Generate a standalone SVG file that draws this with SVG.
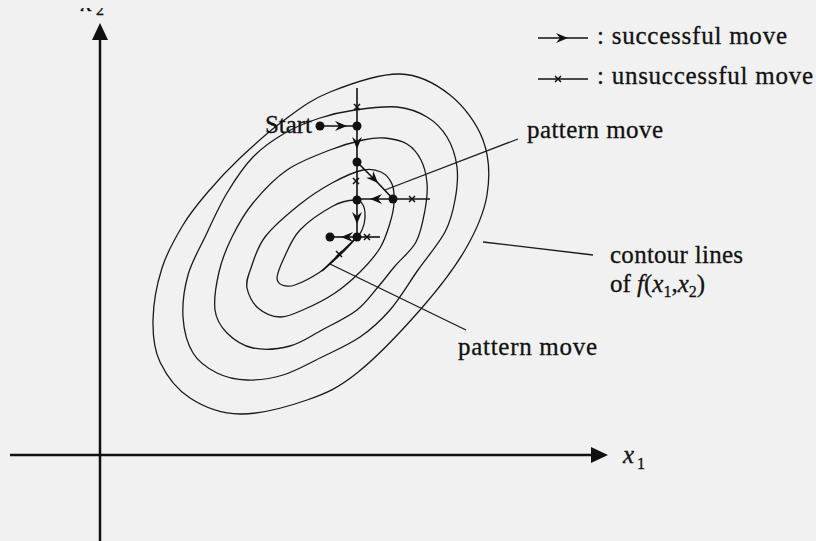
<svg xmlns="http://www.w3.org/2000/svg" width="816" height="541" viewBox="0 0 816 541">
<style>
.ax{stroke:#111;stroke-width:2.5;fill:none}
.ct{stroke:#1a1a1a;stroke-width:1.3;fill:none}
.tr{stroke:#111;stroke-width:1.6;fill:none}
.ld{stroke:#1a1a1a;stroke-width:1.3;fill:none}
.arr{marker-mid:url(#ah)}
text{font-family:"Liberation Serif","Times New Roman",serif;font-size:25px;fill:#111;stroke:#111;stroke-width:0.3}
.it{font-style:italic}
</style>
<defs>
<marker id="ah" viewBox="-13 -6 14 12" refX="0" refY="0" markerWidth="14" markerHeight="12" markerUnits="userSpaceOnUse" orient="auto">
<path d="M0,0 L-12,-5 L-8,0 L-12,5 Z" fill="#111"/>
</marker>
<path id="xm" d="M-3,-3 L3,3 M-3,3 L3,-3" stroke="#111" stroke-width="1.5" fill="none"/>
<circle id="dot" r="4.5" fill="#111"/>
<clipPath id="topclip"><rect x="60" y="8" width="60" height="30"/></clipPath>
</defs>
<rect width="816" height="541" fill="#f1f1f1"/>

<g id="axes">
<line class="ax" x1="100" y1="38" x2="100" y2="541"/>
<polygon points="100,23 92,40 108,40" fill="#111"/>
<line class="ax" x1="10" y1="455" x2="593" y2="455"/>
<polygon points="608,455 591,447 591,463" fill="#111"/>
<g id="label-x2" clip-path="url(#topclip)">
<text x="81" y="11" class="it">x</text>
<text x="96" y="15" style="font-size:16px">2</text>
</g>
<g id="label-x1">
<text x="623" y="463" class="it">x</text>
<text x="637" y="469" style="font-size:16px">1</text>
</g>
</g>

<g id="contours">
<path id="c5" class="ct" d="M153,320 C153.3,304.3 157,283.8 162,268 C167,252.2 175.5,237.5 183,225 C190.5,212.5 197.5,204.2 207,193 C216.5,181.8 227.3,170 240,158 C252.7,146 268,132 283,121 C298,110 310.5,99.8 330,92 C349.5,84.2 380,73.5 400,74 C420,74.5 436.2,84 450,95 C463.8,106 476.8,123.3 483,140 C489.2,156.7 490,176.7 487,195 C484,213.3 476.2,230.8 465,250 C453.8,269.2 438,289.5 420,310 C402,330.5 375.8,358 357,373 C338.2,388 326.5,393.2 307,400 C287.5,406.8 259.5,414.3 240,414 C220.5,413.7 203.3,406.7 190,398 C176.7,389.3 166.2,375 160,362 C153.8,349 152.7,335.7 153,320 Z"/>
<path id="c4" class="ct" d="M183,317 C182.2,304 184.3,288.3 188,275 C191.7,261.7 198.5,250.7 205,237 C211.5,223.3 219,206.3 227,193 C235,179.7 243.3,167 253,157 C262.7,147 273.8,139.5 285,133 C296.2,126.5 308.3,121.8 320,118 C331.7,114.2 342.2,111.8 355,110 C367.8,108.2 385,105.8 397,107 C409,108.2 418.7,112 427,117 C435.3,122 442,128.7 447,137 C452,145.3 455.7,156.5 457,167 C458.3,177.5 457,189.2 455,200 C453,210.8 451.2,220.3 445,232 C438.8,243.7 427.2,257 418,270 C408.8,283 399.7,298.8 390,310 C380.3,321.2 371.7,329 360,337 C348.3,345 332.8,351.7 320,358 C307.2,364.3 295.2,371.3 283,375 C270.8,378.7 258,380.3 247,380 C236,379.7 226,377.5 217,373 C208,368.5 198.7,362.3 193,353 C187.3,343.7 183.8,330 183,317 Z"/>
<path id="c3" class="ct" d="M215,310 C213.7,299.8 216.2,284.2 219,272 C221.8,259.8 226.3,248.5 232,237 C237.7,225.5 243.8,214.2 253,203 C262.2,191.8 274.2,178.8 287,170 C299.8,161.2 317.3,155 330,150 C342.7,145 353.8,142 363,140 C372.2,138 377.7,137.3 385,138 C392.3,138.7 401,140.3 407,144 C413,147.7 417.7,153.5 421,160 C424.3,166.5 426.3,174.7 427,183 C427.7,191.3 426.8,200.2 425,210 C423.2,219.8 421,232.7 416,242 C411,251.3 401.3,258.5 395,266 C388.7,273.5 384.3,279.7 378,287 C371.7,294.3 366.3,302.8 357,310 C347.7,317.2 333.2,324 322,330 C310.8,336 301.5,343 290,346 C278.5,349 263.5,350.2 253,348 C242.5,345.8 233.3,339.3 227,333 C220.7,326.7 216.3,320.2 215,310 Z"/>
<path id="c2" class="ct" d="M247,288 C245.8,281.3 248,276.5 251,268 C254,259.5 257,247.5 265,237 C273,226.5 287.8,214 299,205 C310.2,196 321.3,188.8 332,183 C342.7,177.2 354.8,171.8 363,170 C371.2,168.2 376.2,169.7 381,172 C385.8,174.3 389.8,178.8 392,184 C394.2,189.2 394.3,196.5 394,203 C393.7,209.5 392.3,215.5 390,223 C387.7,230.5 385,239.8 380,248 C375,256.2 367.5,264.5 360,272 C352.5,279.5 344.2,286.8 335,293 C325.8,299.2 314.2,305 305,309 C295.8,313 287.8,317.2 280,317 C272.2,316.8 263.5,312.8 258,308 C252.5,303.2 248.2,294.7 247,288 Z"/>
<path id="c1" class="ct" d="M277,278 C277.3,273.5 280.2,266 284,258 C287.8,250 291.8,238.7 300,230 C308.2,221.3 323.8,211 333,206 C342.2,201 350,200.2 355,200 C360,199.8 361.3,202 363,205 C364.7,208 365.2,213.8 365,218 C364.8,222.2 363.3,226.8 362,230 C360.7,233.2 360.7,232.8 357,237 C353.3,241.2 346.2,249.2 340,255 C333.8,260.8 327.5,267 320,272 C312.5,277 301.3,282.8 295,285 C288.7,287.2 285,286.2 282,285 C279,283.8 277.3,282.5 277,278 Z"/>
</g>

<g id="connectors">
<line class="tr" x1="357" y1="88" x2="357" y2="126"/>
<polyline class="tr arr" points="320,126 347,126 357,126"/>
<polyline class="tr arr" points="357,126 357,149 357,162"/>
<line class="tr" x1="357" y1="162" x2="357" y2="200"/>
<polyline class="tr arr" points="357,162 378,183 393,199"/>
<polyline class="tr arr" points="393,199 370,199 357,199"/>
<line class="tr" x1="393" y1="199" x2="430" y2="199"/>
<polyline class="tr arr" points="357,200 357,224 357,237"/>
<polyline class="tr arr" points="357,237 341,237 330,237"/>
<line class="tr" x1="357" y1="237" x2="380" y2="237"/>
<line class="tr" x1="357" y1="237" x2="322" y2="271"/>
<use href="#xm" x="357" y="107"/>
<use href="#xm" x="356" y="181"/>
<use href="#xm" x="412" y="199"/>
<use href="#xm" x="367" y="237"/>
<use href="#xm" x="339" y="254"/>
<line class="ld" x1="518" y1="139" x2="385" y2="190"/>
<line class="ld" x1="330" y1="264" x2="466" y2="330"/>
<line class="ld" x1="483" y1="242" x2="593" y2="255"/>
</g>

<g id="points">
<use id="p-start" href="#dot" x="320" y="126"/>
<use id="p1" href="#dot" x="357" y="126"/>
<use id="p2" href="#dot" x="357" y="162"/>
<use id="p3" href="#dot" x="393" y="199"/>
<use id="p4" href="#dot" x="357" y="200"/>
<use id="p5" href="#dot" x="357" y="237"/>
<use id="p6" href="#dot" x="330" y="237"/>
</g>

<g id="labels">
<text x="265" y="133" textLength="47">Start</text>
<text x="527" y="138" textLength="136">pattern move</text>
<text x="458" y="355" textLength="139">pattern move</text>
<text x="610" y="263" textLength="133">contour lines</text>
<text x="610" y="292">of <tspan class="it">f</tspan>(<tspan class="it">x</tspan><tspan dy="5" style="font-size:16px">1</tspan><tspan dy="-5">,</tspan><tspan class="it">x</tspan><tspan dy="5" style="font-size:16px">2</tspan><tspan dy="-5">)</tspan></text>
</g>

<g id="legend">
<polyline class="tr arr" points="538,38 568,38 588,38"/>
<text x="597" y="44" textLength="190">: successful move</text>
<line class="tr" x1="538" y1="79" x2="588" y2="79"/>
<use href="#xm" x="558" y="79"/>
<text x="597" y="84" textLength="216">: unsuccessful move</text>
</g>
</svg>
